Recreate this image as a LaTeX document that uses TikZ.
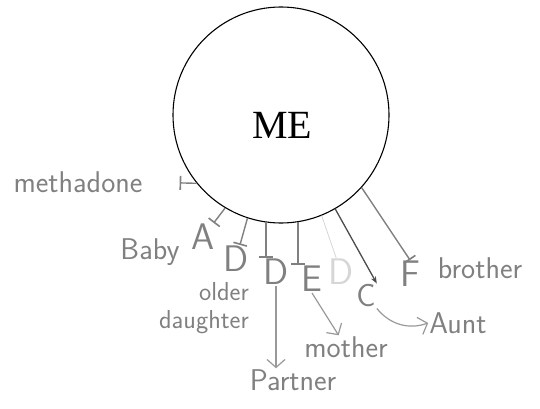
\documentclass[tikz,border=0pt]{standalone}
\usepackage{fontspec}
\setmainfont{Liberation Serif}
\usetikzlibrary{arrows.meta,positioning}
\definecolor{pencil}{gray}{0.5}
\definecolor{pencillight}{gray}{0.6}
\definecolor{pencilfaint}{gray}{0.84}
\definecolor{pencildark}{gray}{0.3}
\tikzset{
  centre/.style={
    circle, draw=black, line width=1.1pt,
    minimum size=216pt, inner sep=0pt
  },
  letter/.style={
    font=\sffamily\fontsize{37}{37}\selectfont,
    text=pencil, inner sep=1pt
  },
  hand/.style={
    font=\sffamily\fontsize{30}{32}\selectfont,
    text=pencil, inner sep=1pt
  },
  blocked/.style={-{Bar[width=14pt,line width=1.6pt]}, line width=1.4pt, draw=pencil},
  leads/.style={-{Straight Barb[length=8pt,width=18pt]}, line width=1.2pt, draw=pencillight},
  strong/.style={-{Stealth[length=7pt]}, line width=1.3pt, draw=pencildark}
}

\begin{document}
\begin{tikzpicture}[x=1pt, y=-1pt]
  \useasboundingbox (0,0) rectangle (540,409);
  \node[centre] (me) at (281,115) {};
  \node[font=\fontsize{40}{40}\selectfont] (metext) at (282,125) {ME};

  \node[hand] (methadone) at (78,182) {methadone};
  \node[letter] (A) at (203,237) {A};
  \node[hand] (baby) at (150,252) {Baby};
  \node[letter] (Dold) at (236,259) {D};
  \node[hand, align=right, font=\sffamily\fontsize{26}{28}\selectfont] (older) at (204,308) {older\\daughter};
  \node[letter] (Dpart) at (276,272) {D};
  \node[letter] (E) at (312,279) {E};
  \node[letter, text=pencilfaint] (Dfaint) at (341,272) {D};
  \node[letter, font=\sffamily\fontsize{32}{32}\selectfont] (C) at (366,296) {C};
  \node[letter] (F) at (410,274) {F};
  \node[hand] (brother) at (480,268) {brother};
  \node[hand] (aunt) at (458,323) {Aunt};
  \node[hand] (mother) at (346,347) {mother};
  \node[hand] (partner) at (293,380) {Partner};

  \draw[blocked, shorten >=36pt] (me.219) -- (methadone.east);
  \draw[blocked] (me.239) -- (A);
  \draw[blocked] (me.252) -- (Dold);
  \draw[blocked] (me.262) -- (me.262 |- Dpart.north);
  \draw[blocked] (me.279) -- (me.279 |- E.north);
  \draw[pencilfaint, line width=0.8pt] (me.292) -- (Dfaint);
  \draw[strong] (me.300) -- (C.north east);
  \draw[blocked] (me.318) -- (F.north);
  \draw[leads] (Dpart.south) -- (Dpart.south |- partner.north);
  \draw[leads] (E.south) -- (mother);
  \draw[leads] (C.south east) to[bend right=35] (aunt.west);
\end{tikzpicture}
\end{document}
